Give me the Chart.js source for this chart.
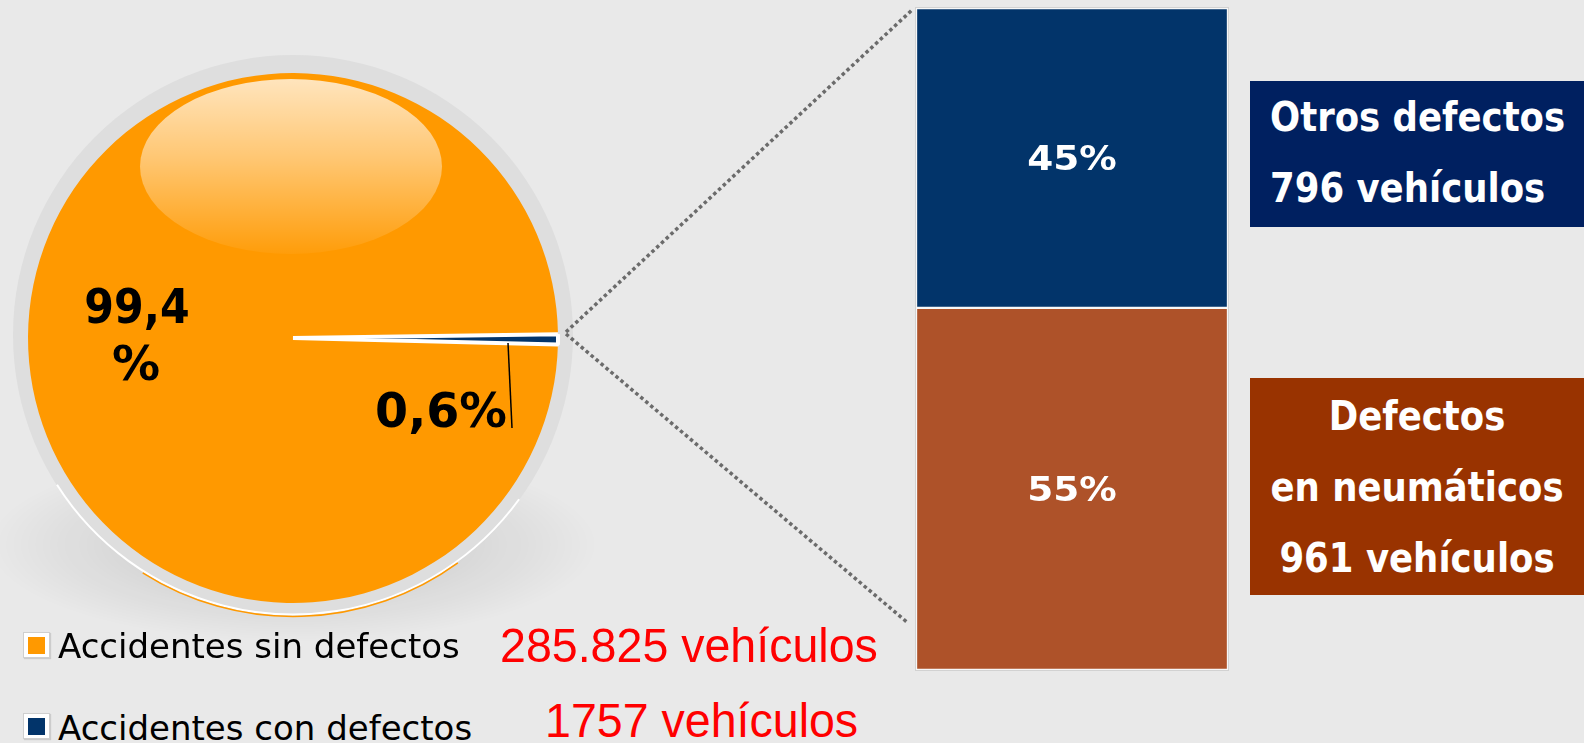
<!DOCTYPE html>
<html><head><meta charset="utf-8">
<script src="https://cdn.jsdelivr.net/npm/chart.js@4"></script>
<style>
html,body{margin:0;padding:0;background:#E9E9E9;width:1584px;height:743px;overflow:hidden;position:relative;font-family:'DejaVu Sans',sans-serif;}
#pieWrap{position:absolute;left:0;top:0;width:600px;height:680px;}
#barWrap{position:absolute;left:915px;top:7px;width:312px;height:662px;border:1px solid #D2D2D2;}
.box{position:absolute;left:1250px;width:334px;}
.t{position:absolute;white-space:nowrap;line-height:1;margin:0;}
.sq{position:absolute;box-sizing:border-box;width:27px;height:26px;background:#fff;border:1px solid #CFCFCF;box-shadow:1px 1px 1px rgba(0,0,0,0.12);}
.sq i{position:absolute;left:4px;top:4px;width:17px;height:17px;}
#conn{position:absolute;left:0;top:0;pointer-events:none;}
</style></head>
<body>
<div id="pieWrap"><canvas id="pie" width="600" height="680"></canvas></div>
<div id="barWrap"><canvas id="bar" width="312" height="662"></canvas></div>
<div id="overlay"></div>
<svg id="conn" width="1584" height="743">
  <line x1="566" y1="332" x2="912" y2="10" stroke="#6B6B6B" stroke-width="3.5" stroke-dasharray="3.5 3"/>
  <line x1="566" y1="334" x2="908" y2="623" stroke="#6B6B6B" stroke-width="3.5" stroke-dasharray="3.5 3"/>
</svg>
<script>
// ---- data ----
const pieLabels = ['Accidentes sin defectos', 'Accidentes con defectos'];
const pieValues = [285825, 1757];
const pieValueTexts = ['285.825 vehículos', '1757 vehículos'];
const barCategories = ['Accidentes con defectos'];
const defectLabels = ['Defectos en neumáticos', 'Otros defectos'];
const defectValues = [961, 796];
const defectBoxLines = [['Defectos', 'en neumáticos', '961 vehículos'], ['Otros defectos', '796 vehículos']];

// ---- styles ----
const ORANGE = '#FF9900', NAVY = '#02346A', BRICK = '#AE5229';
const pieTotal = pieValues.reduce((a, b) => a + b, 0);
const defTotal = defectValues.reduce((a, b) => a + b, 0);
const pctText = v => (v / pieTotal * 100).toFixed(1).replace('.', ',');

const pieDecor = {
  id: 'pieDecor',
  beforeDatasetsDraw(chart) {
    const a = chart.getDatasetMeta(0).data[0];
    const x = a.x, y = a.y, R = a.outerRadius;
    const ctx = chart.ctx;
    ctx.save();
    // soft shadow
    ctx.save();
    ctx.translate(x, y + R * 0.78);
    ctx.scale(1, 0.32);
    const sg = ctx.createRadialGradient(0, 0, R * 0.6, 0, 0, R + 40);
    sg.addColorStop(0, 'rgba(0,0,0,0.08)');
    sg.addColorStop(1, 'rgba(0,0,0,0)');
    ctx.fillStyle = sg;
    ctx.beginPath(); ctx.arc(0, 0, R + 40, 0, Math.PI * 2); ctx.fill();
    ctx.restore();
    // gray ring
    ctx.beginPath(); ctx.arc(x, y - 3, R + 15, 0, Math.PI * 2);
    ctx.fillStyle = '#DEDEDE'; ctx.fill();
    // bottom rim
    ctx.beginPath(); ctx.arc(x, y - 3, R + 14.5, Math.PI * 0.2, Math.PI * 0.82);
    ctx.strokeStyle = '#FFFFFF'; ctx.lineWidth = 2; ctx.stroke();
    ctx.beginPath(); ctx.arc(x, y - 2, R + 15.5, Math.PI * 0.3, Math.PI * 0.68);
    ctx.strokeStyle = ORANGE; ctx.lineWidth = 1.5; ctx.stroke();
    ctx.restore();
  },
  afterDatasetsDraw(chart) {
    const a = chart.getDatasetMeta(0).data[0];
    const x = a.x, y = a.y, R = a.outerRadius;
    const ctx = chart.ctx;
    ctx.save();
    // gloss highlight
    const top = y - 259, bot = y - 84;
    const hg = ctx.createLinearGradient(0, top, 0, bot);
    hg.addColorStop(0, 'rgba(255,255,255,0.74)');
    hg.addColorStop(0.45, 'rgba(255,255,255,0.45)');
    hg.addColorStop(1, 'rgba(255,255,255,0.04)');
    ctx.fillStyle = hg;
    ctx.beginPath(); ctx.ellipse(x - 2, (top + bot) / 2, 151, (bot - top) / 2, 0, 0, Math.PI * 2); ctx.fill();
    // labels
    ctx.fillStyle = '#000';
    ctx.font = 'bold 48px "DejaVu Sans"';
    ctx.textAlign = 'center';
    ctx.textBaseline = 'alphabetic';
    const draw = (t, cx, by, sx) => { ctx.save(); ctx.translate(cx, by); ctx.scale(sx, 1); ctx.fillText(t, 0, 0); ctx.restore(); };
    draw(pctText(pieValues[0]), x - 156, y - 15, 0.89);
    draw('%', x - 157, y + 42, 1.0);
    draw(pctText(pieValues[1]) + '%', x + 148, y + 89, 0.99);
    // leader line
    ctx.beginPath(); ctx.moveTo(x + 215, y + 5); ctx.lineTo(x + 219, y + 90);
    ctx.strokeStyle = '#000'; ctx.lineWidth = 1.5; ctx.stroke();
    ctx.restore();
  }
};

new Chart(document.getElementById('pie'), {
  type: 'pie',
  data: {
    labels: pieLabels,
    datasets: [{
      data: pieValues,
      backgroundColor: [ORANGE, NAVY],
      borderColor: '#FFFFFF',
      borderWidth: [0, 4],
      hoverBorderWidth: [0, 4]
    }]
  },
  options: {
    responsive: false,
    animation: false,
    events: [],
    rotation: 91.4,
    layout: { padding: { left: 26, top: 71, right: 40, bottom: 75 } },
    plugins: { legend: { display: false }, tooltip: { enabled: false } }
  },
  plugins: [pieDecor]
});

const barLabels = {
  id: 'barLabels',
  afterDatasetsDraw(chart) {
    const ctx = chart.ctx;
    ctx.save();
    ctx.fillStyle = '#FFFFFF';
    ctx.font = 'bold 34px "DejaVu Sans"';
    ctx.textAlign = 'center';
    ctx.textBaseline = 'alphabetic';
    chart.data.datasets.forEach((ds, i) => {
      const el = chart.getDatasetMeta(i).data[0];
      const cy = (el.y + el.base) / 2;
      ctx.save();
      ctx.translate(el.x, cy + 12.5);
      ctx.scale(1.1, 1);
      ctx.fillText(Math.round(ds.data[0] / defTotal * 100) + '%', 0, 0);
      ctx.restore();
    });
    ctx.restore();
  }
};

new Chart(document.getElementById('bar'), {
  type: 'bar',
  data: {
    labels: barCategories,
    datasets: [
      { label: defectLabels[0], data: [defectValues[0]], backgroundColor: BRICK, borderColor: '#F7F7F7', borderWidth: 1.5, borderSkipped: false },
      { label: defectLabels[1], data: [defectValues[1]], backgroundColor: NAVY, borderColor: '#F7F7F7', borderWidth: 1.5, borderSkipped: false }
    ]
  },
  options: {
    responsive: false,
    animation: false,
    events: [],
    layout: { padding: 0 },
    datasets: { bar: { categoryPercentage: 1, barPercentage: 1 } },
    scales: {
      x: { stacked: true, display: false },
      y: { stacked: true, display: false, min: 0, max: defTotal }
    },
    plugins: { legend: { display: false }, tooltip: { enabled: false } }
  },
  plugins: [barLabels]
});

// ---- HTML text ----
const overlay = document.getElementById('overlay');
function addText(parent, text, x, baseline, fs, family, weight, color, sx, align) {
  const d = document.createElement('div');
  d.className = 't';
  d.textContent = text;
  d.style.fontSize = fs + 'px';
  d.style.fontFamily = family;
  d.style.fontWeight = weight;
  d.style.color = color;
  d.style.top = (baseline - 0.846 * fs) + 'px';
  d.style.left = x + 'px';
  d.style.transformOrigin = '0 0';
  if (align === 'center') {
    d.style.transform = 'scaleX(' + sx + ') translateX(-50%)';
  } else {
    d.style.transform = 'scaleX(' + sx + ')';
  }
  parent.appendChild(d);
  return d;
}

// legend
const sqColors = [ORANGE, NAVY];
const legTop = [632, 713], legBase = [658, 740], redX = [500, 545], redBase = [662, 737];
pieLabels.forEach((lab, i) => {
  const s = document.createElement('div');
  s.className = 'sq';
  s.style.left = '23px'; s.style.top = legTop[i] + 'px';
  const inner = document.createElement('i');
  inner.style.background = sqColors[i];
  s.appendChild(inner);
  overlay.appendChild(s);
  addText(overlay, lab, 58, legBase[i], 34, "'DejaVu Sans'", 'normal', '#000', 1, 'left');
  addText(overlay, pieValueTexts[i], redX[i], redBase[i], 49, "'Liberation Sans', Arial, sans-serif", 'normal', '#FF0000', 0.95, 'left');
});

// boxes
const boxes = [
  { top: 378, h: 217, bg: '#993300', align: 'center', x: 1417, bases: [431, 502, 573] },
  { top: 81, h: 146, bg: '#002060', align: 'left', x: 1270, bases: [132, 203] }
];
defectBoxLines.forEach((lines, i) => {
  const b = boxes[i];
  const d = document.createElement('div');
  d.className = 'box';
  d.style.top = b.top + 'px'; d.style.height = b.h + 'px'; d.style.background = b.bg;
  overlay.appendChild(d);
  lines.forEach((ln, j) => {
    addText(overlay, ln, b.x, b.bases[j], 41, "'DejaVu Sans'", 'bold', '#FFFFFF', 0.866, b.align);
  });
});
</script>
</body></html>
